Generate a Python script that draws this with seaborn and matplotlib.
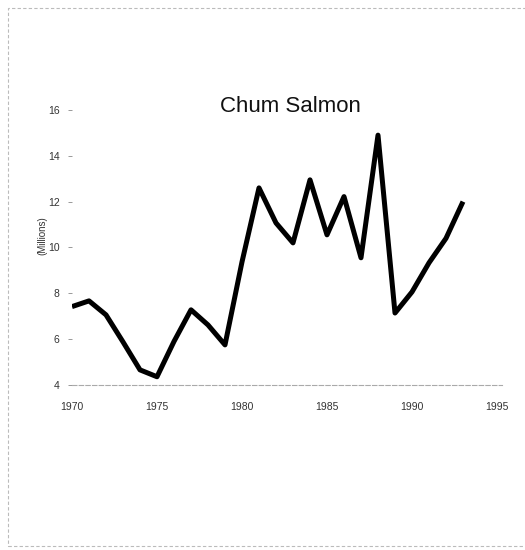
import matplotlib
matplotlib.use("Agg")
import matplotlib.pyplot as plt
import seaborn as sns
import pandas as pd
from matplotlib.patches import Rectangle

years = list(range(1970, 1994))
catch_millions = [7.42, 7.67, 7.06, 5.88, 4.66, 4.36, 5.9, 7.28, 6.62, 5.75,
                  9.37, 12.6, 11.07, 10.2, 12.95, 10.55, 12.22, 9.55, 14.9,
                  7.14, 8.06, 9.33, 10.4, 12.0]
x_ticks = [1970, 1975, 1980, 1985, 1990, 1995]
y_ticks = [4, 6, 8, 10, 12, 14, 16]
title = "Chum Salmon"
ylabel = "(Millions)"

df = pd.DataFrame({"year": years, "catch": catch_millions})

sns.set_style("white")
plt.rcParams['font.family'] = ['Liberation Sans', 'DejaVu Sans']

fig = plt.figure(figsize=(5.25, 5.5), dpi=100)
ax = fig.add_axes([72/525, 0.30, (497-72)/525, 0.5418])

sns.lineplot(data=df, x="year", y="catch", ax=ax, color="black", linewidth=3.6,
             solid_joinstyle="round", solid_capstyle="butt")

ax.set_xlim(1970, 1995)
ax.set_ylim(4, 17)
ax.set_xticks(x_ticks)
ax.set_yticks(y_ticks)
ax.set_xticklabels([str(t) for t in x_ticks], fontsize=7.5, color="#333333")
ax.set_yticklabels([str(t) for t in y_ticks], fontsize=7.5, color="#333333")
ax.tick_params(axis="x", length=0, pad=12)
ax.tick_params(axis="y", left=True, length=3, width=0.7, color="#999999", pad=6,
               direction="out")

for s in ["top", "right", "left"]:
    ax.spines[s].set_visible(False)
ax.spines["bottom"].set_color("#aaaaaa")
ax.spines["bottom"].set_linewidth(0.8)
ax.spines["bottom"].set_linestyle((0, (4, 2)))
ax.spines["bottom"].set_bounds(1970, 1995.3)

ax.set_xlabel("")
ax.set_ylabel(ylabel, fontsize=7, color="#333333", labelpad=0)
ax.text(0.515, 0.935, title, transform=ax.transAxes, ha="center", va="center",
        fontsize=16, color="#111111")

# faint frame of the scanned page
fig.patches.append(Rectangle((8/525, 4/550), 1 - 8/525 + 0.01, 1 - 8/550 - 4/550,
                             transform=fig.transFigure, fill=False,
                             edgecolor="#bbbbbb", linewidth=0.8, linestyle=(0, (3, 2))))

fig.savefig("out.png", dpi=100, facecolor="white")
